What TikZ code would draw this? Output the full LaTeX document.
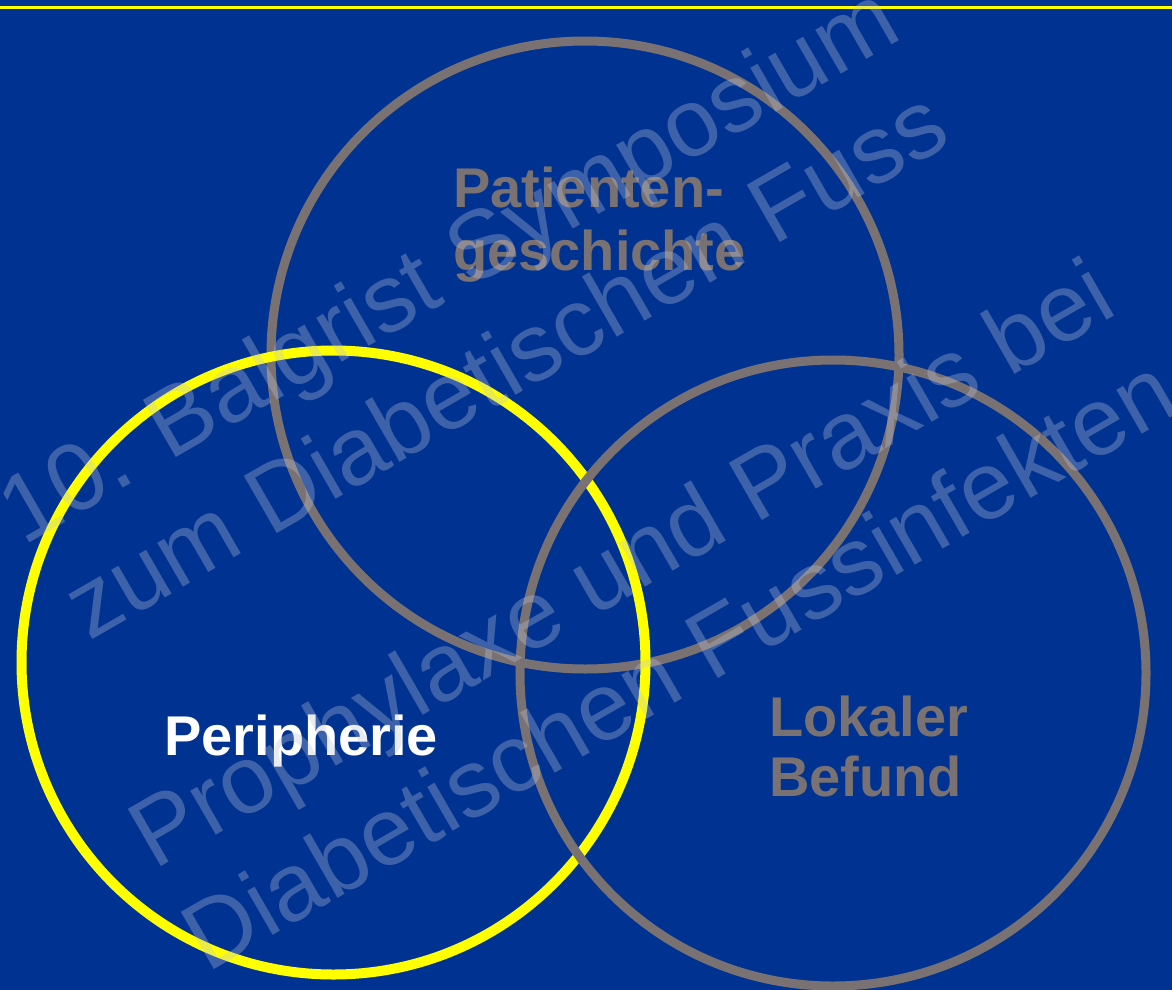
\documentclass[tikz,border=0pt]{standalone}
\usepackage{fontspec}
\setmainfont{Liberation Sans}
\definecolor{slideblue}{RGB}{0,51,145}
\definecolor{ringgray}{RGB}{122,114,114}
\definecolor{markyellow}{RGB}{255,255,0}
\definecolor{stampgray}{RGB}{190,195,220}
\tikzset{
  ring/.style={draw=ringgray, line width=9pt},
  focusring/.style={draw=markyellow, line width=10pt},
  label/.style={inner sep=0pt, anchor=base west, text=ringgray,
    font=\fontsize{56}{63}\selectfont\bfseries},
  stamp/.style={inner sep=0pt, anchor=base, rotate=30, text=stampgray,
    text opacity=0.33, font=\fontsize{96}{115}\selectfont}
}
\begin{document}
\begin{tikzpicture}[x=1pt,y=-1pt]
  % slide background and top rule
  \fill[slideblue] (0,0) rectangle (1172,990);
  \useasboundingbox (0,0) rectangle (1172,990);
  \draw[markyellow, line width=3.5pt] (0,7.5) -- (1172,7.5);

  % the three rings
  \draw[ring] (585,355) circle[radius=314pt];
  \draw[focusring] (333.5,662.5) circle[radius=312pt];
  \draw[ring] (833,673) circle[radius=313pt];

  % ring labels
  \node[label] (hist1) at (453,207) {Patienten-};
  \node[label] (hist2) at (453,270) {geschichte};
  \node[label, text=white] (peri) at (164,755) {Peripherie};
  \node[label] (lok1) at (769,736) {Lokaler};
  \node[label] (lok2) at (769,796) {Befund};

  % diagonal stamp across the slide
  \node[stamp] (st1) at (464,292) {10. Balgrist Symposium};
  \node[stamp] (st2) at (522,392) {zum Diabetischen Fuss};
  \node[stamp] (st3) at (637.5,592) {Prophylaxe und Praxis bei};
  \node[stamp] (st4) at (695,692) {Diabetischen Fussinfekten};
\end{tikzpicture}
\end{document}
